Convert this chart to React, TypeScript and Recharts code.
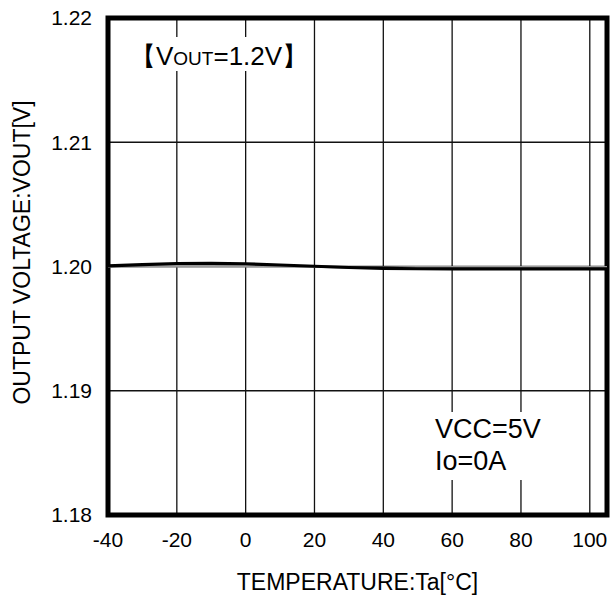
import React from 'react';
import { LineChart, Line, XAxis, YAxis, CartesianGrid, ReferenceArea } from 'recharts';

const temps = [-40, -30, -20, -10, 0, 10, 20, 30, 40, 50, 60, 70, 80, 90, 100, 105];
const voutMain = [1.20005, 1.20015, 1.20024, 1.20025, 1.20022, 1.20012, 1.20002, 1.19992, 1.19985, 1.19982, 1.19981, 1.19981, 1.19981, 1.19981, 1.19981, 1.19981];
const voutSub = [1.20001, 1.20002, 1.20003, 1.20003, 1.20003, 1.20002, 1.2, 1.19992, 1.1999, 1.19993, 1.19993, 1.19993, 1.19993, 1.19993, 1.19993, 1.19993];
const xTicks = [-40, -20, 0, 20, 40, 60, 80, 100];
const yTicks = [1.18, 1.19, 1.2, 1.21, 1.22];
const yTickLabels = ['1.18', '1.19', '1.20', '1.21', '1.22'];

const data = temps.map((t, i) => ({ t, main: voutMain[i], sub: voutSub[i] }));

const FONT = '"Liberation Sans", Arial, sans-serif';

export default function App() {
  return (
    <div style={{ position: 'fixed', left: 0, top: 0, width: 616, height: 599, background: '#fff' }}>
      <LineChart width={616} height={599} data={data} margin={{ top: 18, right: 9, bottom: 0, left: 0 }}>
        <CartesianGrid stroke="#111" strokeWidth={1.3} verticalValues={[-20, 0, 20, 40, 60, 80, 100]} horizontalValues={[1.19, 1.2, 1.21]} />
        <XAxis
          dataKey="t"
          type="number"
          domain={[-40, 105]}
          ticks={xTicks}
          height={84}
          axisLine={false}
          tickLine={false}
          tickSize={0}
          tickMargin={17}
          tick={{ fill: '#000', fontSize: 21, fontFamily: FONT }}
          label={{ value: 'TEMPERATURE:Ta[°C]', position: 'insideBottom', offset: 9, fill: '#000', fontSize: 23, fontFamily: FONT }}
          interval={0}
        />
        <YAxis
          type="number"
          domain={[1.18, 1.22]}
          ticks={yTicks}
          tickFormatter={(v: number) => yTickLabels[yTicks.indexOf(v)] ?? String(v)}
          width={108}
          axisLine={false}
          tickLine={false}
          tickSize={0}
          tickMargin={16}
          tick={{ fill: '#000', fontSize: 21, fontFamily: FONT }}
          label={{ value: 'OUTPUT VOLTAGE:VOUT[V]', angle: -90, position: 'insideLeft', offset: 22, dy: -14, fill: '#000', fontSize: 23, fontFamily: FONT, style: { textAnchor: 'middle' } }}
          interval={0}
        />
        <Line dataKey="sub" stroke="#9a9a9a" strokeWidth={2.5} dot={false} isAnimationActive={false} type="linear" />
        <Line dataKey="main" stroke="#000" strokeWidth={3.2} dot={false} isAnimationActive={false} type="linear" />
        <ReferenceArea x1={-40} x2={105} y1={1.18} y2={1.22} fill="none" stroke="#000" strokeWidth={5} ifOverflow="visible" />
      </LineChart>
      <svg width={616} height={599} style={{ position: 'absolute', left: 0, top: 0, pointerEvents: 'none' }}>
        <rect x={126} y={37} width={186} height={34} fill="#fff" />
        <text x={130} y={65} fontFamily={FONT} fontSize={26} fill="#000">
          【V<tspan fontSize={19}>OUT</tspan>=1.2V】
        </text>
        <rect x={430} y={412} width={120} height={68} fill="#fff" />
        <text x={435} y={438} fontFamily={FONT} fontSize={27} fill="#000">VCC=5V</text>
        <text x={435} y={470} fontFamily={FONT} fontSize={27} fill="#000">Io=0A</text>
      </svg>
    </div>
  );
}
